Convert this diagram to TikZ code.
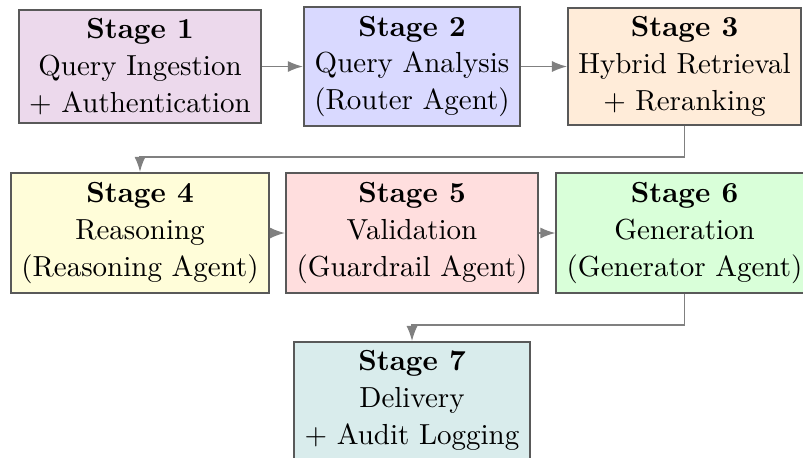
\documentclass[tikz,border=0pt]{standalone}
\usetikzlibrary{arrows.meta}
\begin{document}
\begin{tikzpicture}[x=0.3448pt, y=-0.3448pt,
  stagebox/.style={draw=black!65, line width=0.7pt, align=center, inner sep=0pt,
    font=\fontsize{10}{12.7}\selectfont},
  arr/.style={draw=gray, line width=0.5pt, -{Latex[length=5.2pt,width=3.8pt]}}]
  \useasboundingbox (0,0) rectangle (803,457);
  \clip (0,0) rectangle (803,457);

  % first row
  \node[stagebox, fill=violet!15, minimum width=83.4pt, minimum height=39pt]
    (s1) at (140,66.5) {\textbf{Stage 1}\\Query Ingestion\\+ Authentication};
  \node[stagebox, fill=blue!15, minimum width=74.5pt, minimum height=41pt]
    (s2) at (412,66.5) {\textbf{Stage 2}\\Query Analysis\\(Router Agent)};
  \node[stagebox, fill=orange!15, minimum width=80.3pt, minimum height=40.3pt]
    (s3) at (684.5,66.5) {\textbf{Stage 3}\\Hybrid Retrieval\\+ Reranking};

  % second row
  \node[stagebox, fill=yellow!15, minimum width=89pt, minimum height=41.4pt]
    (s4) at (140,233) {\textbf{Stage 4}\\Reasoning\\(Reasoning Agent)};
  \node[stagebox, fill=red!13, minimum width=86.9pt, minimum height=41.4pt]
    (s5) at (412,233) {\textbf{Stage 5}\\Validation\\(Guardrail Agent)};
  \node[stagebox, fill=green!15, minimum width=88.3pt, minimum height=41.4pt]
    (s6) at (684.5,233) {\textbf{Stage 6}\\Generation\\(Generator Agent)};

  % last stage
  \node[stagebox, fill=teal!15, minimum width=81.4pt, minimum height=40.3pt]
    (s7) at (412,400.5) {\textbf{Stage 7}\\Delivery\\+ Audit Logging};

  % connectors
  \draw[arr] (s1) -- (s2);
  \draw[arr] (s2) -- (s3);
  \draw[arr] (s3.south) -- ++(0,31) -| (s4.north);
  \draw[arr] (s4) -- (s5);
  \draw[arr] (s5) -- (s6);
  \draw[arr] (s6.south) -- ++(0,31) -| (s7.north);
\end{tikzpicture}
\end{document}
